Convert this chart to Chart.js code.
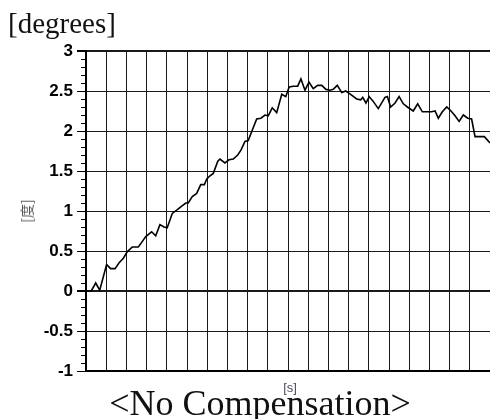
<!DOCTYPE html>
<html>
<head>
<meta charset="utf-8">
<script src="https://cdn.jsdelivr.net/npm/chart.js@4/dist/chart.umd.min.js"></script>
<style>
  body { margin: 0; background: #fff; }
  #wrap { position: relative; width: 490px; height: 419px; overflow: hidden; }
  #chart { position: absolute; left: 0; top: 0; }
  .lbl { position: absolute; white-space: nowrap; }
  #unitTop { left: 8px; top: 7px; font: 29px "Liberation Serif", serif; color: #111; }
  #unitY { left: 26px; top: 211px; font: 14px "Noto Sans CJK JP", sans-serif; color: #555;
           transform: translate(-50%, -50%) rotate(-90deg); }
  #unitX { left: 290px; top: 380px; font: 13px "Liberation Sans", sans-serif; color: #534a5e;
           transform: translateX(-50%); }
  #caption { left: 260px; top: 382px; font: 36px "Liberation Serif", serif; color: #111;
             transform: translateX(-50%); }
</style>
</head>
<body>
<div id="wrap">
  <canvas id="chart" width="490" height="419"></canvas>
  <div class="lbl" id="unitTop">[degrees]</div>
  <div class="lbl" id="unitY">[度]</div>
  <div class="lbl" id="unitX">[s]</div>
  <div class="lbl" id="caption">&lt;No Compensation&gt;</div>
</div>
<script>
// time in grid divisions (0..20), angle in degrees
const timeValues = [
  0, 0.26, 0.48, 0.68, 1.02, 1.22, 1.44, 1.63, 1.85, 2.04,
  2.29, 2.59, 2.79, 2.96, 3.25, 3.45, 3.66, 3.86, 4.02, 4.27,
  4.49, 4.74, 4.94, 5.06, 5.26, 5.48, 5.68, 5.86, 5.98, 6.14,
  6.30, 6.52, 6.63, 6.88, 7.08, 7.29, 7.51, 7.67, 7.87, 8.03,
  8.23, 8.45, 8.66, 8.86, 9.02, 9.22, 9.44, 9.69, 9.89, 10.06,
  10.26, 10.48, 10.64, 10.84, 11.04, 11.25, 11.47, 11.67, 11.88, 12.08,
  12.24, 12.44, 12.66, 12.86, 13.03, 13.40, 13.60, 13.70, 13.86, 14.02,
  14.22, 14.47, 14.80, 14.92, 15.08, 15.30, 15.50, 15.71, 15.91, 16.20,
  16.42, 16.65, 17.11, 17.28, 17.44, 17.64, 17.86, 18.07, 18.27, 18.47,
  18.68, 18.90, 19.09, 19.26, 19.72, 20.0
];
const angleValues = [
  0, 0, 0.10, 0.01, 0.33, 0.28, 0.28, 0.35, 0.41, 0.49,
  0.55, 0.55, 0.62, 0.68, 0.74, 0.69, 0.83, 0.80, 0.79, 0.97,
  1.01, 1.06, 1.10, 1.10, 1.18, 1.22, 1.33, 1.33, 1.40, 1.44,
  1.47, 1.62, 1.65, 1.60, 1.64, 1.65, 1.70, 1.76, 1.87, 1.88,
  2.01, 2.15, 2.16, 2.20, 2.19, 2.29, 2.23, 2.46, 2.43, 2.55,
  2.56, 2.56, 2.65, 2.51, 2.61, 2.53, 2.57, 2.57, 2.52, 2.51,
  2.52, 2.57, 2.48, 2.50, 2.47, 2.40, 2.39, 2.42, 2.35, 2.43,
  2.37, 2.28, 2.42, 2.43, 2.30, 2.35, 2.43, 2.34, 2.30, 2.25,
  2.34, 2.24, 2.24, 2.25, 2.16, 2.24, 2.30, 2.25, 2.19, 2.12,
  2.20, 2.16, 2.15, 1.93, 1.93, 1.85
];
const yMin = -1, yMax = 3, yStep = 0.5;

const points = timeValues.map((t, i) => ({ x: t, y: angleValues[i] }));

// short minor ticks every 0.1 on the left axis
const minorTicks = {
  id: 'minorTicks',
  afterDraw(chart) {
    const y = chart.scales.y;
    const c = chart.ctx;
    c.save();
    c.strokeStyle = '#000';
    c.lineWidth = 1;
    for (let i = yMin * 10; i <= yMax * 10; i++) {
      if (i % 5 === 0) continue;
      const py = Math.round(y.getPixelForValue(i / 10)) + 0.5;
      c.beginPath();
      c.moveTo(y.right - 5, py);
      c.lineTo(y.right, py);
      c.stroke();
    }
    c.restore();
  }
};

new Chart(document.getElementById('chart'), {
  type: 'line',
  data: {
    datasets: [{
      data: points,
      borderColor: '#000',
      borderWidth: 1.6,
      pointRadius: 0,
      tension: 0,
      fill: false
    }]
  },
  options: {
    responsive: false,
    animation: false,
    devicePixelRatio: 1,
    layout: { padding: { top: 51, left: 0, right: 0, bottom: 0 } },
    plugins: { legend: { display: false }, tooltip: { enabled: false } },
    scales: {
      x: {
        type: 'linear',
        min: 0,
        max: 20,
        ticks: { display: false, stepSize: 1 },
        grid: { color: '#1a1a1a', lineWidth: 1, drawTicks: false },
        border: { color: '#000', width: 2 },
        afterFit(s) { s.height = 48; }
      },
      y: {
        min: yMin,
        max: yMax,
        ticks: {
          stepSize: yStep,
          padding: 4,
          color: '#000',
          font: { family: 'Liberation Sans', size: 17, weight: 'bold' },
          callback: v => String(v)
        },
        grid: {
          color: '#1a1a1a',
          tickColor: '#000',
          tickLength: 9,
          lineWidth: ctx => (ctx.tick && (ctx.tick.value === 0 || ctx.tick.value === yMax)) ? 2 : 1
        },
        border: { color: '#000', width: 2 },
        afterFit(s) { s.width = 86; }
      }
    }
  },
  plugins: [minorTicks]
});
</script>
</body>
</html>
